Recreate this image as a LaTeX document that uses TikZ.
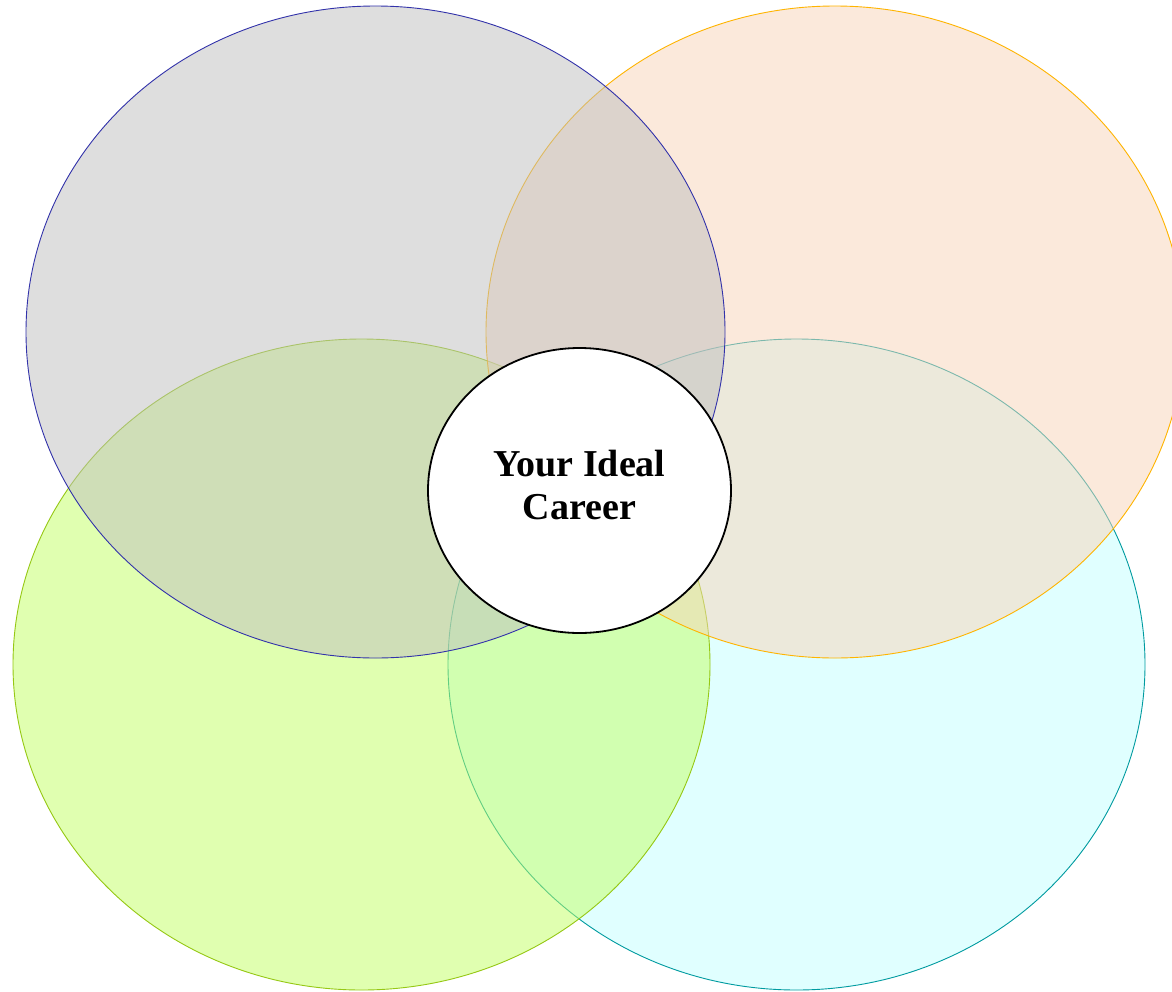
\documentclass[tikz,border=0pt]{standalone}
\usepackage{fontspec}
\setmainfont{Liberation Serif}
\definecolor{fgray}{RGB}{191,191,191}
\definecolor{fpeach}{RGB}{249,213,185}
\definecolor{flime}{RGB}{195,255,99}
\definecolor{fcyan}{RGB}{195,255,255}
\definecolor{sblue}{RGB}{50,50,170}
\definecolor{sorange}{RGB}{255,180,0}
\definecolor{slime}{RGB}{150,200,20}
\definecolor{steal}{RGB}{0,155,160}
\usetikzlibrary{shapes.geometric}
\tikzset{
  petal/.style={fill opacity=0.5, line width=0.9pt},
  core/.style={ellipse, draw=black, fill=white, line width=1.8pt, minimum width=303pt, minimum height=285pt, inner sep=0pt},
}
\begin{document}
\begin{tikzpicture}[x=1pt,y=-1pt]
\useasboundingbox (0,0) rectangle (1172,991);
\fill[white] (0,0) rectangle (1172,991);
\draw[petal, fill=fcyan, draw=steal] (796.5,664.5) ellipse [x radius=348.5pt, y radius=325.5pt];
\draw[petal, fill=flime, draw=slime] (361.5,664.5) ellipse [x radius=348.5pt, y radius=325.5pt];
\draw[petal, fill=fpeach, draw=sorange] (835,332) ellipse [x radius=349pt, y radius=326pt];
\draw[petal, fill=fgray, draw=sblue] (375.5,332) ellipse [x radius=349.5pt, y radius=326pt];
\node[core] (center) at (579.5,490.5) {};
\node[font=\bfseries\fontsize{38}{43}\selectfont, align=center, inner sep=0pt] (label) at (579.5,485) {Your Ideal\\Career};
\end{tikzpicture}
\end{document}
